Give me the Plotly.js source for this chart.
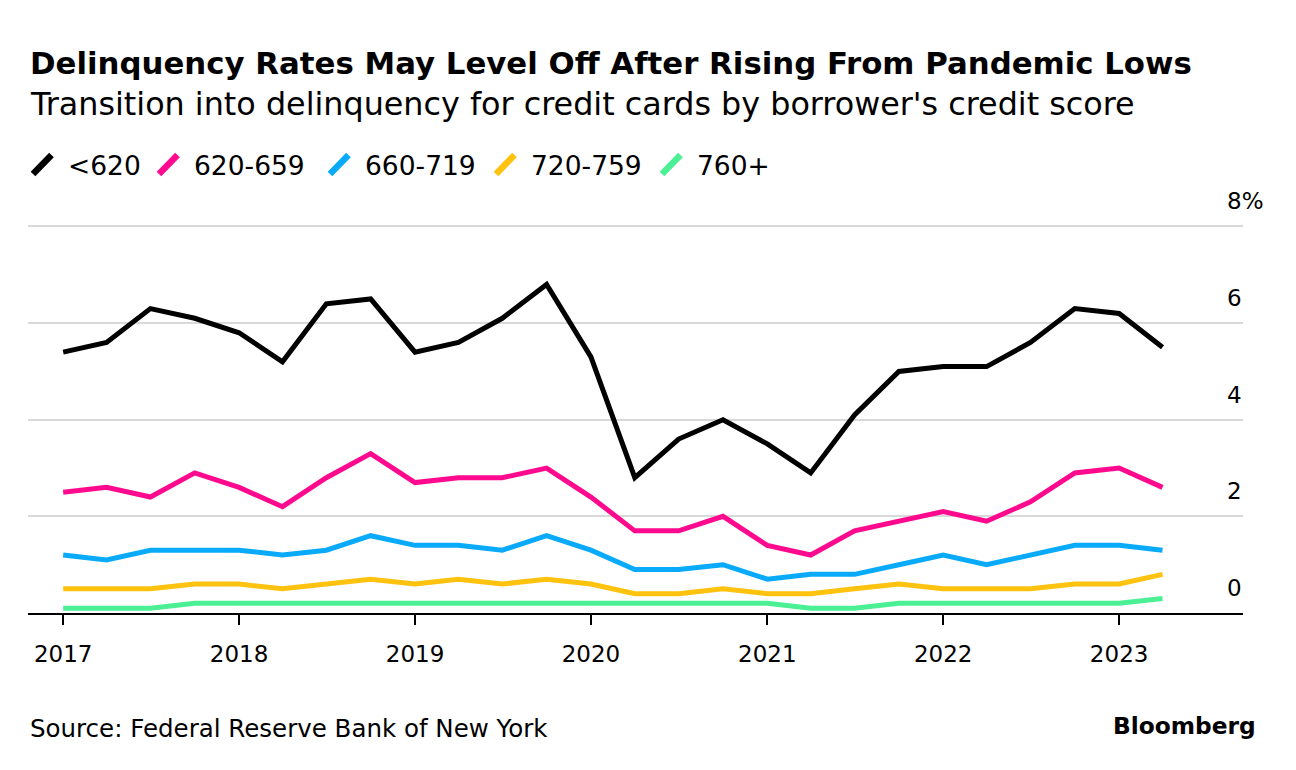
<!DOCTYPE html>
<html>
<head>
<meta charset="utf-8">
<script src="https://cdn.plot.ly/plotly-3.0.1.min.js"></script>
<style>
  html, body { margin: 0; padding: 0; background: #ffffff; }
  #chart { width: 1296px; height: 770px; }
</style>
</head>
<body>
<div id="chart"></div>
<script>
// Quarterly observations, 2017 Q1 – 2023 Q2
const quarters = [
  '2017-01-01','2017-04-01','2017-07-01','2017-10-01',
  '2018-01-01','2018-04-01','2018-07-01','2018-10-01',
  '2019-01-01','2019-04-01','2019-07-01','2019-10-01',
  '2020-01-01','2020-04-01','2020-07-01','2020-10-01',
  '2021-01-01','2021-04-01','2021-07-01','2021-10-01',
  '2022-01-01','2022-04-01','2022-07-01','2022-10-01',
  '2023-01-01','2023-04-01'
];

const seriesNames = ['<620', '620-659', '660-719', '720-759', '760+'];

const below620 = [5.4, 5.6, 6.3, 6.1, 5.8, 5.2, 6.4, 6.5, 5.4, 5.6, 6.1, 6.8,
                  5.3, 2.8, 3.6, 4.0, 3.5, 2.9, 4.1, 5.0, 5.1, 5.1, 5.6, 6.3, 6.2, 5.5];
const s620to659 = [2.5, 2.6, 2.4, 2.9, 2.6, 2.2, 2.8, 3.3, 2.7, 2.8, 2.8, 3.0,
                   2.4, 1.7, 1.7, 2.0, 1.4, 1.2, 1.7, 1.9, 2.1, 1.9, 2.3, 2.9, 3.0, 2.6];
const s660to719 = [1.2, 1.1, 1.3, 1.3, 1.3, 1.2, 1.3, 1.6, 1.4, 1.4, 1.3, 1.6,
                   1.3, 0.9, 0.9, 1.0, 0.7, 0.8, 0.8, 1.0, 1.2, 1.0, 1.2, 1.4, 1.4, 1.3];
const s720to759 = [0.5, 0.5, 0.5, 0.6, 0.6, 0.5, 0.6, 0.7, 0.6, 0.7, 0.6, 0.7,
                   0.6, 0.4, 0.4, 0.5, 0.4, 0.4, 0.5, 0.6, 0.5, 0.5, 0.5, 0.6, 0.6, 0.8];
const s760plus = [0.1, 0.1, 0.1, 0.2, 0.2, 0.2, 0.2, 0.2, 0.2, 0.2, 0.2, 0.2,
                  0.2, 0.2, 0.2, 0.2, 0.2, 0.1, 0.1, 0.2, 0.2, 0.2, 0.2, 0.2, 0.2, 0.3];

const seriesColors = ['#000000', '#ff0a8e', '#0aaafa', '#ffc20e', '#4cf094'];

const yTickValues = [0, 2, 4, 6, 8];
const yTickLabels = ['0', '2', '4', '6', '8%'];
const xTickValues = ['2017-01-01','2018-01-01','2019-01-01','2020-01-01','2021-01-01','2022-01-01','2023-01-01'];
const xTickLabels = ['2017','2018','2019','2020','2021','2022','2023'];

const allSeries = [below620, s620to659, s660to719, s720to759, s760plus];

const FONT = 'DejaVu Sans, Liberation Sans, Arial, sans-serif';

// ---- layout geometry (pixels) ----
const W = 1296, H = 770;
const M = { l: 28, r: 53, t: 212, b: 157 };
const plotW = W - M.l - M.r, plotH = H - M.t - M.b;
const px = x => (x - M.l) / plotW;          // pixel x -> paper x
const py = y => (H - M.b - y) / plotH;      // pixel y -> paper y
const legendStarts = [30, 156, 327, 493, 659]; // left edge of each legend entry

const traces = [];
// draw order: green at bottom, black on top
for (let i = allSeries.length - 1; i >= 0; i--) {
  traces.push({
    x: quarters, y: allSeries[i], type: 'scatter', mode: 'lines',
    name: seriesNames[i],
    line: { color: seriesColors[i], width: 5, shape: 'linear' },
    showlegend: false, hoverinfo: 'skip'
  });
}

const shapes = [];
const annotations = [
  { text: '<b>Delinquency Rates May Level Off After Rising From Pandemic Lows</b>',
    xref: 'paper', yref: 'paper', x: px(28), y: py(63), xanchor: 'left', yanchor: 'middle',
    showarrow: false, font: { family: FONT, size: 30.8, color: '#000' } },
  { text: "Transition into delinquency for credit cards by borrower's credit score",
    xref: 'paper', yref: 'paper', x: px(28), y: py(104), xanchor: 'left', yanchor: 'middle',
    showarrow: false, font: { family: FONT, size: 31.8, color: '#000' } },
  { text: 'Source: Federal Reserve Bank of New York',
    xref: 'paper', yref: 'paper', x: px(28), y: py(728), xanchor: 'left', yanchor: 'middle',
    showarrow: false, font: { family: FONT, size: 24.5, color: '#000' } },
  { text: '<b>Bloomberg</b>',
    xref: 'paper', yref: 'paper', x: px(1258), y: py(725), xanchor: 'right', yanchor: 'middle',
    showarrow: false, font: { family: FONT, size: 23.3, color: '#000' } }
];

// custom legend: slanted stroke + label
seriesNames.forEach((name, i) => {
  const x0 = legendStarts[i];
  shapes.push({
    type: 'line', xref: 'paper', yref: 'paper',
    x0: px(x0 + 3), y0: py(174), x1: px(x0 + 21.5), y1: py(155),
    line: { color: seriesColors[i], width: 6.5 }
  });
  annotations.push({
    text: name, xref: 'paper', yref: 'paper', x: px(x0 + 36), y: py(165),
    xanchor: 'left', yanchor: 'middle', showarrow: false,
    font: { family: FONT, size: 26.5, color: '#000' }
  });
});

// right-side value labels sitting above each gridline
yTickValues.forEach((v, k) => {
  annotations.push({
    text: yTickLabels[k], xref: 'paper', yref: 'y', x: px(1225), y: v,
    xanchor: 'left', yanchor: 'bottom', yshift: 10, showarrow: false,
    font: { family: FONT, size: 23, color: '#000' }
  });
});

const layout = {
  width: W, height: H,
  paper_bgcolor: '#ffffff', plot_bgcolor: '#ffffff',
  margin: M,
  font: { family: FONT, color: '#000' },
  showlegend: false,
  xaxis: {
    type: 'date', range: ['2016-10-20', '2023-09-15'],
    tickvals: xTickValues, ticktext: xTickLabels,
    showgrid: false, zeroline: false,
    showline: true, linecolor: '#000', linewidth: 2,
    ticks: 'outside', ticklen: 10, tickwidth: 2, tickcolor: '#000',
    tickfont: { family: FONT, size: 23, color: '#000' },
    ticklabelstandoff: 9, fixedrange: true
  },
  yaxis: {
    range: [0, 8.3], tickvals: yTickValues, showticklabels: false,
    showgrid: true, gridcolor: '#d9d9d9', gridwidth: 2,
    zeroline: false, showline: false, fixedrange: true
  },
  shapes: shapes,
  annotations: annotations
};

Plotly.newPlot('chart', traces, layout, { displayModeBar: false, staticPlot: true });
</script>
</body>
</html>
